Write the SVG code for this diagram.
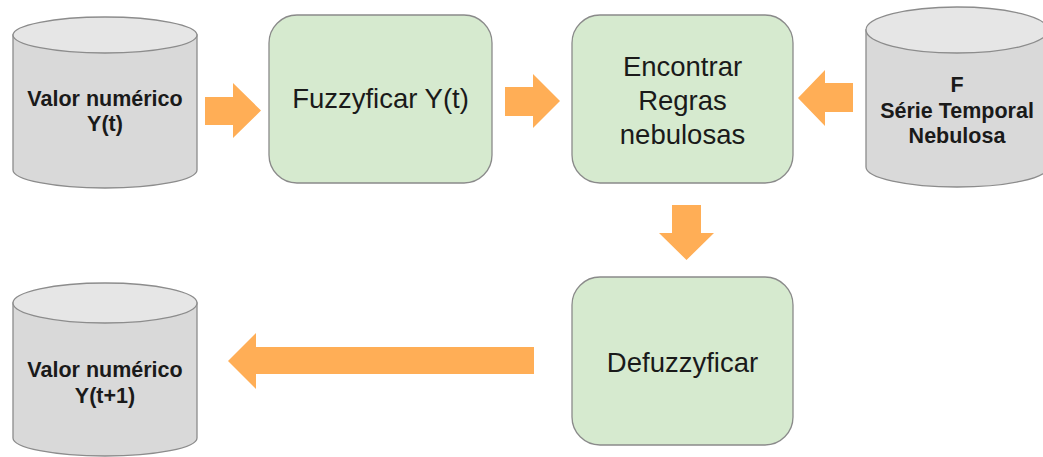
<svg xmlns="http://www.w3.org/2000/svg" width="1043" height="457" viewBox="0 0 1043 457">
  <style>
    .box { fill: #d6eacf; stroke: #8a8a8a; stroke-width: 1.3; }
    .cyl { fill: #d9d9d9; stroke: #8c8c8c; stroke-width: 1.3; }
    .cyltop { fill: #e6e6e6; stroke: #8c8c8c; stroke-width: 1.3; }
    .arrow { fill: #ffae56; }
    .lbl { font-family: "Liberation Sans", Arial, sans-serif; font-size: 27.5px; fill: #1a1a1a; text-anchor: middle; }
    .dbl { font-family: "Liberation Sans", Arial, sans-serif; font-size: 21.5px; font-weight: bold; fill: #1a1a1a; text-anchor: middle; }
  </style>

  <!-- Data store: input value -->
  <g id="valor-yt">
    <path class="cyl" d="M13,35 L13,170 A92,18 0 0 0 197,170 L197,35 Z"/>
    <ellipse class="cyltop" cx="105" cy="35" rx="92" ry="18"/>
    <text class="dbl" x="105" y="106">Valor numérico</text>
    <text class="dbl" x="105" y="131">Y(t)</text>
  </g>

  <!-- Process: fuzzification -->
  <g id="fuzzyficar">
    <rect class="box" x="269" y="15" width="223" height="168" rx="28" ry="28"/>
    <text class="lbl" x="380.5" y="108">Fuzzyficar Y(t)</text>
  </g>

  <!-- Process: rule extraction -->
  <g id="encontrar-regras">
    <rect class="box" x="572" y="15" width="221" height="168" rx="28" ry="28"/>
    <text class="lbl" x="682.5" y="76">Encontrar</text>
    <text class="lbl" x="682.5" y="110">Regras</text>
    <text class="lbl" x="682.5" y="144">nebulosas</text>
  </g>

  <!-- Data store: fuzzy time series -->
  <g id="serie-temporal">
    <path class="cyl" d="M866,30 L866,167 A91,20 0 0 0 1048,167 L1048,30 Z"/>
    <ellipse class="cyltop" cx="957" cy="30" rx="91" ry="23"/>
    <text class="dbl" x="957" y="92">F</text>
    <text class="dbl" x="957" y="118">Série Temporal</text>
    <text class="dbl" x="957" y="143">Nebulosa</text>
  </g>

  <!-- Process: defuzzification -->
  <g id="defuzzyficar">
    <rect class="box" x="572" y="277" width="221" height="168" rx="28" ry="28"/>
    <text class="lbl" x="682.5" y="372">Defuzzyficar</text>
  </g>

  <!-- Data store: forecast value -->
  <g id="valor-yt1">
    <path class="cyl" d="M13,303 L13,438 A92,18 0 0 0 197,438 L197,303 Z"/>
    <ellipse class="cyltop" cx="105" cy="303" rx="92" ry="20"/>
    <text class="dbl" x="105" y="377">Valor numérico</text>
    <text class="dbl" x="105" y="403">Y(t+1)</text>
  </g>

  <!-- Block arrows between steps -->
  <g id="connectors">
    <polygon class="arrow" points="205,97 233,97 233,83 261,110.5 233,138 233,125 205,125"/>
    <polygon class="arrow" points="505,87 533,87 533,74 560,101 533,128 533,116 505,116"/>
    <polygon class="arrow" points="853,83 825,83 825,70 798,98 825,126 825,112 853,112"/>
    <polygon class="arrow" points="672,205 701,205 701,233 714,233 686.5,260 659,233 672,233"/>
    <polygon class="arrow" points="534,347 256,347 256,333 228,361 256,389 256,374 534,374"/>
  </g>
</svg>
